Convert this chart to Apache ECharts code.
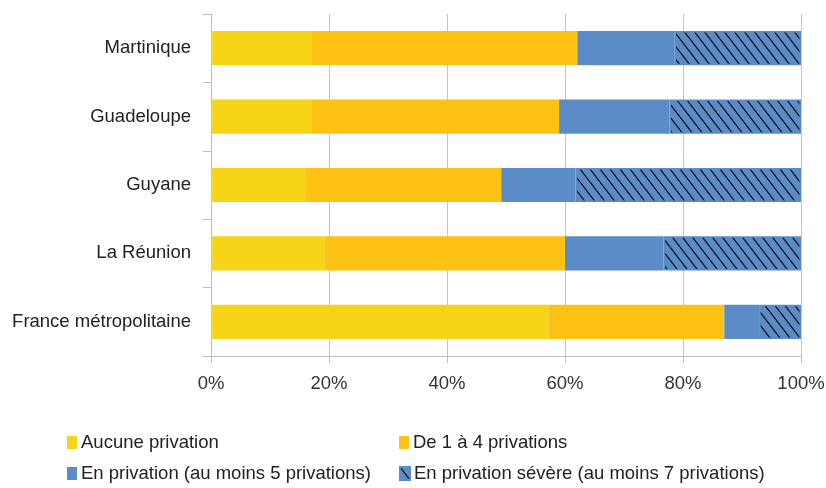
<!DOCTYPE html>
<html>
<head>
<meta charset="utf-8">
<script src="https://cdn.jsdelivr.net/npm/echarts@6/dist/echarts.min.js"></script>
<style>
  html, body { margin: 0; padding: 0; background: #fff; }
  #chart { width: 826px; height: 488px; }
</style>
</head>
<body>
<div id="chart"></div>
<script>
const categories = ['Martinique', 'Guadeloupe', 'Guyane', 'La Réunion', 'France métropolitaine'];
const seriesNames = [
  'Aucune privation',
  'De 1 à 4 privations',
  'En privation (au moins 5 privations)',
  'En privation sévère (au moins 7 privations)'
];
const aucune = [17.1, 17.1, 16.1, 19.2, 57.2];
const deUnAQuatre = [45.0, 41.9, 33.1, 40.8, 29.8];
const enPrivation = [16.5, 18.7, 12.6, 16.7, 5.9];
const severe = [21.4, 22.3, 38.2, 23.3, 7.1];
const xTicks = [0, 20, 40, 60, 80, 100];

const FONT = '"Liberation Sans Narrow", "Liberation Sans", Arial, sans-serif';
const BLUE = '#5b8cc8';

// hatch pattern for the severe segment
function hatch() {
  const c = document.createElement('canvas');
  c.width = 10; c.height = 13;
  const g = c.getContext('2d');
  g.fillStyle = BLUE;
  g.fillRect(0, 0, 10, 13);
  g.strokeStyle = '#111';
  g.lineWidth = 1.3;
  [-10, 0, 10].forEach(dx => {
    g.beginPath();
    g.moveTo(dx, 0);
    g.lineTo(dx + 10, 13);
    g.stroke();
  });
  return c;
}

const chart = echarts.init(document.getElementById('chart'));
const values = [aucune, deUnAQuatre, enPrivation, severe];
const colors = ['#f6d418', '#fdc213', BLUE, { image: hatch(), repeat: 'repeat' }];

const option = {
  animation: false,
  grid: { left: 211, right: 25, top: 14, bottom: 132, outerBoundsMode: 'none' },
  legend: {
    left: 62,
    top: 424,
    width: 780,
    itemWidth: 10,
    itemHeight: 13,
    itemGap: 4,
    icon: 'rect',
    data: seriesNames,
    textStyle: {
      fontFamily: FONT,
      fontSize: 18.5,
      color: '#222',
      width: 314,
      lineHeight: 27,
      padding: [0, 0, 0, -1]
    }
  },
  xAxis: {
    type: 'value',
    min: xTicks[0],
    max: xTicks[xTicks.length - 1],
    interval: 20,
    axisLine: { show: true, lineStyle: { color: '#bdbdbd' } },
    axisTick: { show: true, length: 7, lineStyle: { color: '#bdbdbd' } },
    splitLine: { show: true, lineStyle: { color: '#c4c4c4' } },
    axisLabel: {
      formatter: '{value}%',
      fontFamily: FONT,
      fontSize: 18.5,
      color: '#333',
      margin: 18
    }
  },
  yAxis: {
    type: 'category',
    data: categories,
    inverse: true,
    axisLine: { show: true, lineStyle: { color: '#bdbdbd' } },
    axisTick: { show: true, length: 8, lineStyle: { color: '#bdbdbd' } },
    axisLabel: {
      fontFamily: FONT,
      fontSize: 18.5,
      color: '#222',
      margin: 20
    }
  },
  series: seriesNames.map((name, i) => ({
    name: name,
    type: 'bar',
    stack: 'total',
    barWidth: '50%',
    data: values[i],
    itemStyle: i === 3
      ? { color: colors[i], borderColor: BLUE, borderWidth: 1.5 }
      : { color: colors[i] }
  }))
};

chart.setOption(option);
</script>
</body>
</html>
